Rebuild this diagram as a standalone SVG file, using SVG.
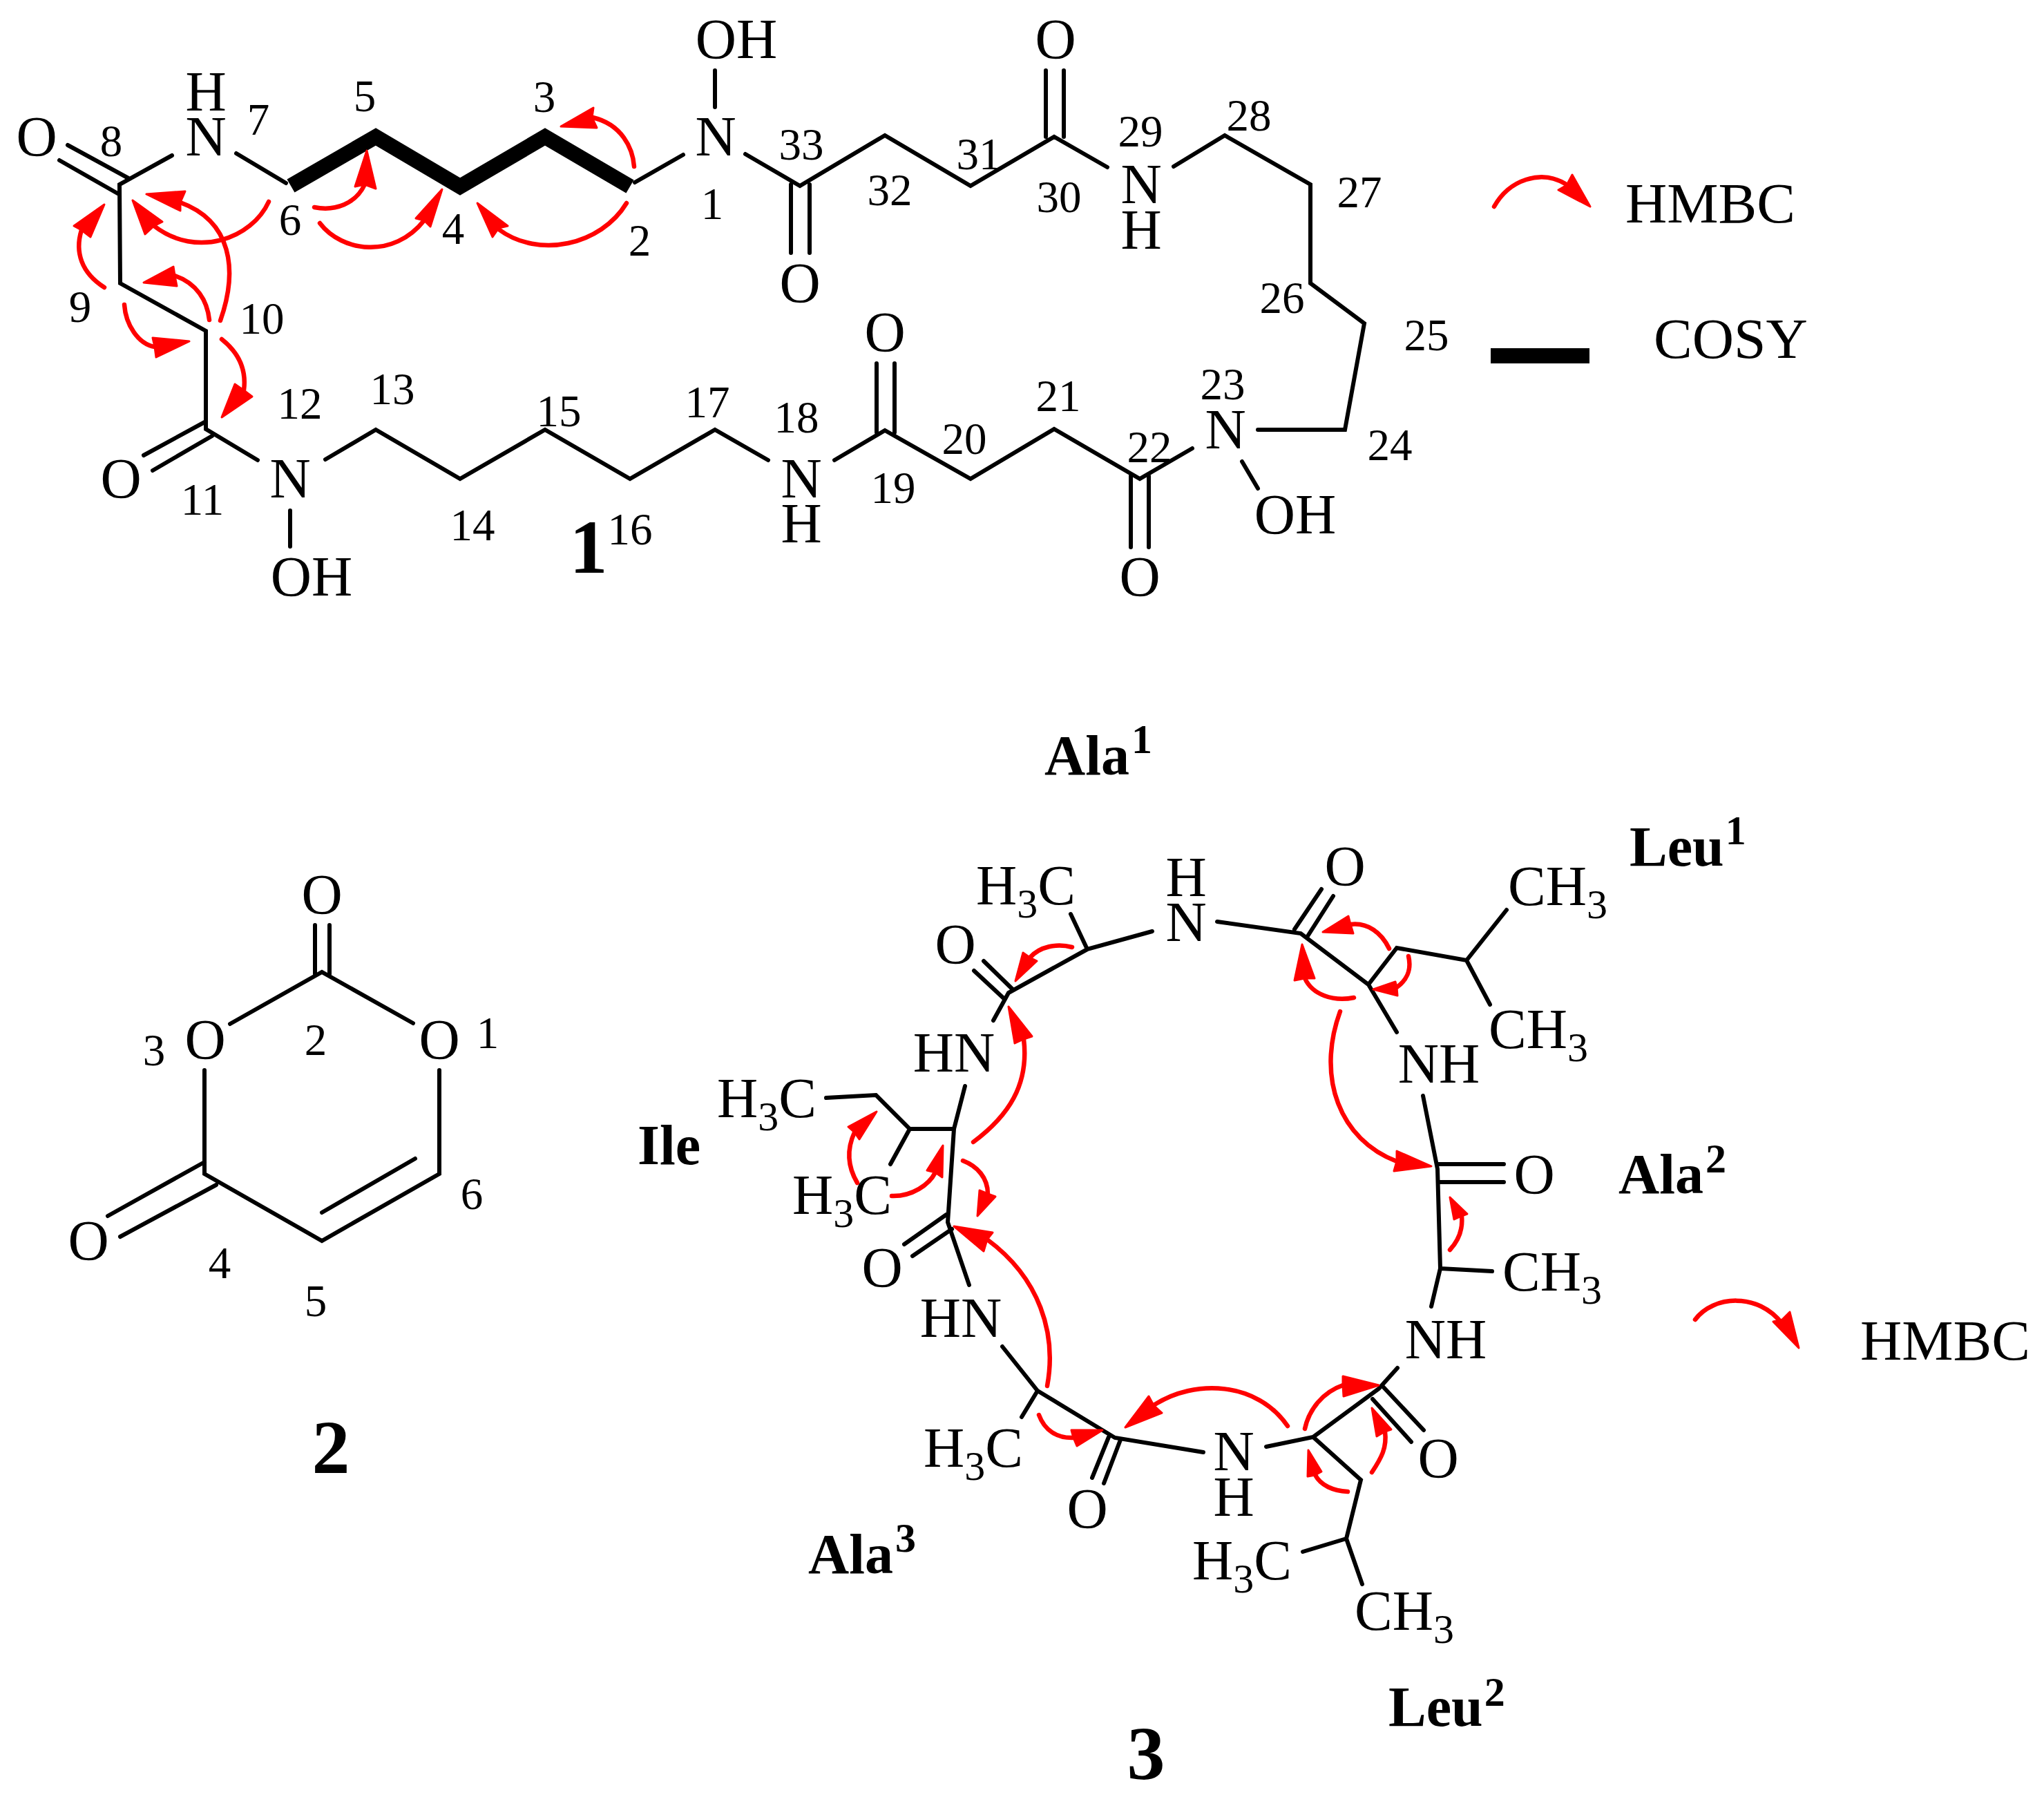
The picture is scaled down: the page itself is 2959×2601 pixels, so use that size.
<svg xmlns="http://www.w3.org/2000/svg" width="2959" height="2601" viewBox="0 0 2959 2601">
<style>
text{font-family:"Liberation Serif","Times New Roman",serif;fill:#000}
.a{font-size:82px;text-anchor:middle}
.l{font-size:82px}
.m{font-size:83.5px}
.n{font-size:65px;text-anchor:middle}
.g{font-size:82px;font-weight:bold}
.k{font-size:110px;font-weight:bold;text-anchor:middle}
.u{font-size:60px}
.s{font-size:60px}
.b{fill:none;stroke:#000;stroke-width:6;stroke-linecap:round;stroke-linejoin:miter}
.t{fill:none;stroke:#000;stroke-width:22;stroke-linejoin:miter}
.r{fill:none;stroke:#f00;stroke-width:6.5;stroke-linecap:round}
.h{fill:#f00;stroke:#f00;stroke-width:3;stroke-linejoin:round}
</style>
<rect width="2959" height="2601" fill="#fff"/>
<g id="compound-1">
<g id="c1-bonds">
<path class="b" d="M98,210L186,258M86,232L172,281M249,225L173,267L174,410L298,479L298,621L373,666M298,610L208,659M307,631L221,681M420,739V791M471,665L544,622L666,693L789,622L912,693L1035,622L1112,666M1208,666L1281,623L1405,693L1526,621L1650,693L1726,649M1269,526V626M1295,526V626M1637,689V792M1663,689V792M1798,668L1821,707M1821,622H1947L1975,468L1897,410V267L1773,196L1699,241M1603,242L1526,198L1405,269L1281,196L1158,269L1079,223M1514,102V198M1540,102V198M1145,267V366M1172,267V366M1035,102V155M989,224L919,264M342,222L414,265"/>
<path class="t" d="M912,270L789,198L666,270L544,198L421,269"/>
</g>
<g id="c1-atoms">
<text class="a" x="53" y="225">O</text><text class="a" x="298" y="160">H</text><text class="a" x="298" y="225">N</text><text class="a" x="1066" y="84">OH</text><text class="a" x="1036" y="225">N</text><text class="a" x="175" y="720">O</text><text class="a" x="420" y="720">N</text><text class="a" x="451" y="862">OH</text><text class="a" x="1528" y="84">O</text><text class="a" x="1652" y="294">N</text><text class="a" x="1652" y="360">H</text><text class="a" x="1158" y="437">O</text><text class="a" x="1281" y="508">O</text><text class="a" x="1774" y="649">N</text><text class="a" x="1160" y="720">N</text><text class="a" x="1160" y="785">H</text><text class="a" x="1875" y="772">OH</text><text class="a" x="1650" y="862">O</text>
</g>
<g id="c1-numbers">
<text class="n" x="1031" y="317">1</text><text class="n" x="926" y="370">2</text><text class="n" x="788" y="162">3</text><text class="n" x="656" y="353">4</text><text class="n" x="528" y="161">5</text><text class="n" x="420" y="340">6</text><text class="n" x="374" y="195">7</text><text class="n" x="161" y="226">8</text><text class="n" x="116" y="466">9</text><text class="n" x="379" y="483">10</text><text class="n" x="293" y="745">11</text><text class="n" x="434" y="606">12</text><text class="n" x="568" y="585">13</text><text class="n" x="684" y="782">14</text><text class="n" x="809" y="617">15</text><text class="n" x="912" y="788">16</text><text class="n" x="1024" y="604">17</text><text class="n" x="1153" y="626">18</text><text class="n" x="1293" y="728">19</text><text class="n" x="1396" y="657">20</text><text class="n" x="1532" y="595">21</text><text class="n" x="1664" y="669">22</text><text class="n" x="1770" y="578">23</text><text class="n" x="2012" y="666">24</text><text class="n" x="2065" y="507">25</text><text class="n" x="1856" y="453">26</text><text class="n" x="1968" y="300">27</text><text class="n" x="1808" y="189">28</text><text class="n" x="1651" y="212">29</text><text class="n" x="1533" y="307">30</text><text class="n" x="1417" y="245">31</text><text class="n" x="1288" y="297">32</text><text class="n" x="1160" y="231">33</text>
<text class="k" x="852" y="829">1</text>
</g>
<g id="c1-hmbc">
<path class="r" d="M918,241C916,214 900,180 858,170"/><polygon class="h" points="812,183 859,156 857,170 864,185"/>
<path class="r" d="M907,294C870,355 780,375 722,332"/><polygon class="h" points="691,294 735,327 722,330 713,343"/>
<path class="r" d="M463,323C495,365 570,375 614,319"/><polygon class="h" points="640,274 623,328 614,319 602,316"/>
<path class="r" d="M455,300C485,306 515,295 528,267"/><polygon class="h" points="531,218 544,273 528,267 514,270"/>
<path class="r" d="M389,292C365,345 285,375 223,327"/><polygon class="h" points="192,290 235,321 223,327 210,339"/>
<path class="r" d="M319,464C345,390 335,320 261,293"/><polygon class="h" points="212,281 268,277 261,293 261,305"/>
<path class="r" d="M151,416C118,395 108,365 118,333"/><polygon class="h" points="151,296 131,343 118,333 107,327"/>
<path class="r" d="M303,463C300,435 285,410 253,399"/><polygon class="h" points="208,409 251,386 253,399 256,414"/>
<path class="r" d="M180,441C182,470 200,498 224,502"/><polygon class="h" points="274,494 226,517 224,502 221,489"/>
<path class="r" d="M321,491C345,510 357,535 353,565"/><polygon class="h" points="321,604 340,556 353,565 365,574"/>
</g>
</g>
<g id="legend-1">
<path class="r" d="M2163,299C2185,260 2230,245 2266,266"/><polygon class="h" points="2302,299 2276,253 2268,268 2256,275"/>
<text class="m" x="2353" y="322">HMBC</text>
<rect x="2158" y="504" width="143" height="22" fill="#000"/>
<text class="m" x="2394" y="518">COSY</text>
</g>
<g id="compound-2">
<path class="b" d="M456,1339V1410M477,1339V1410M333,1482L466,1407L598,1481M296,1549V1699L466,1796L636,1699V1549M466,1755L601,1677M296,1682L156,1760M313,1715L174,1790"/>
<text class="a" x="466" y="1322">O</text><text class="a" x="297" y="1532">O</text><text class="a" x="636" y="1532">O</text><text class="a" x="128" y="1823">O</text>
<text class="n" x="706" y="1517">1</text><text class="n" x="457" y="1527">2</text><text class="n" x="223" y="1542">3</text><text class="n" x="318" y="1850">4</text><text class="n" x="457" y="1905">5</text><text class="n" x="683" y="1750">6</text>
<text class="k" x="479" y="2132">2</text>
</g>
<g id="compound-3">
<g id="c3-bonds">
<path class="b" d="M1550,1323L1574,1374L1668,1348M1574,1374L1460,1437L1438,1477M1424,1391L1466,1432M1410,1405L1453,1445M1397,1572L1381,1634L1372,1769L1403,1860M1381,1634H1317L1268,1585L1196,1589M1317,1634L1289,1685M1370,1758L1309,1801M1378,1779L1321,1818M1451,1949L1502,2013L1614,2081L1742,2102M1762,1334L1883,1351L1981,1425L2022,1494M1913,1287L1874,1345M1930,1297L1893,1355M1981,1425L2022,1372L2123,1390L2181,1317M2123,1390L2157,1454M2060,1586L2081,1692L2085,1836L2072,1891M2081,1685H2177M2085,1711H2177M2085,1836L2160,1840M2023,1980L1996,2010L1901,2080L1833,2094M2003,2008L2061,2070M1987,2025L2043,2087M1901,2080L1970,2142L1949,2227L1972,2293M1949,2227L1886,2246M1605,2080L1581,2139M1622,2084L1598,2147M1502,2013L1479,2051"/>
</g>
<g id="c3-atoms">
<text class="a" x="1717" y="1297">H</text><text class="a" x="1717" y="1362">N</text><text class="a" x="1947" y="1281">O</text><text class="a" x="1383" y="1394">O</text>
<text class="l" x="1413" y="1309">H<tspan class="s" dy="19">3</tspan><tspan dy="-19">C</tspan></text>
<text class="a" x="1381" y="1551">HN</text>
<text class="l" x="1038" y="1617">H<tspan class="s" dy="19">3</tspan><tspan dy="-19">C</tspan></text>
<text class="l" x="1147" y="1757">H<tspan class="s" dy="19">3</tspan><tspan dy="-19">C</tspan></text>
<text class="a" x="1277" y="1862">O</text><text class="a" x="1391" y="1935">HN</text>
<text class="l" x="2183" y="1310">CH<tspan class="s" dy="19">3</tspan></text>
<text class="l" x="2155" y="1517">CH<tspan class="s" dy="19">3</tspan></text>
<text class="a" x="2083" y="1567">NH</text><text class="a" x="2221" y="1727">O</text>
<text class="l" x="2175" y="1868">CH<tspan class="s" dy="19">3</tspan></text>
<text class="a" x="2093" y="1966">NH</text><text class="a" x="2082" y="2138">O</text>
<text class="l" x="1726" y="2286">H<tspan class="s" dy="19">3</tspan><tspan dy="-19">C</tspan></text>
<text class="l" x="1961" y="2359">CH<tspan class="s" dy="19">3</tspan></text>
<text class="a" x="1786" y="2128">N</text><text class="a" x="1786" y="2194">H</text><text class="a" x="1574" y="2211">O</text>
<text class="l" x="1337" y="2123">H<tspan class="s" dy="19">3</tspan><tspan dy="-19">C</tspan></text>
</g>
<g id="c3-residues">
<text class="g" x="1512" y="1121">Ala<tspan class="u" dx="3" dy="-31">1</tspan></text>
<text class="g" x="2359" y="1253">Leu<tspan class="u" dx="2" dy="-31">1</tspan></text>
<text class="g" x="2343" y="1727">Ala<tspan class="u" dx="3" dy="-30">2</tspan></text>
<text class="g" x="923" y="1685">Ile</text>
<text class="g" x="1170" y="2277">Ala<tspan class="u" dx="3" dy="-31">3</tspan></text>
<text class="g" x="2010" y="2498">Leu<tspan class="u" dx="2" dy="-29">2</tspan></text>
<text class="k" x="1659" y="2575">3</text>
</g>
<g id="c3-hmbc">
<path class="r" d="M1552,1371C1530,1365 1505,1370 1491,1386"/><polygon class="h" points="1470,1420 1481,1379 1491,1386 1501,1391"/>
<path class="r" d="M1409,1653C1460,1615 1490,1570 1482,1504"/><polygon class="h" points="1460,1457 1494,1500 1482,1504 1469,1510"/>
<path class="r" d="M1241,1712C1228,1690 1225,1665 1237,1639"/><polygon class="h" points="1269,1609 1244,1649 1237,1639 1228,1631"/>
<path class="r" d="M1291,1731C1320,1732 1345,1715 1354,1697"/><polygon class="h" points="1365,1658 1364,1704 1354,1697 1342,1694"/>
<path class="r" d="M1394,1680C1415,1688 1430,1705 1430,1728"/><polygon class="h" points="1415,1760 1418,1723 1430,1728 1441,1732"/>
<path class="r" d="M1516,2006C1530,1930 1505,1850 1429,1794"/><polygon class="h" points="1381,1775 1437,1784 1429,1794 1424,1811"/>
<path class="r" d="M1504,2048C1512,2070 1530,2082 1554,2081"/><polygon class="h" points="1596,2070 1559,2093 1554,2081 1551,2070"/>
<path class="r" d="M1864,2064C1820,2000 1730,1995 1670,2034"/><polygon class="h" points="1629,2066 1663,2021 1670,2034 1682,2045"/>
<path class="r" d="M1889,2068C1895,2040 1915,2015 1944,2005"/><polygon class="h" points="1996,2005 1945,2021 1944,2005 1944,1992"/>
<path class="r" d="M1951,2159C1930,2158 1912,2150 1904,2135"/><polygon class="h" points="1894,2099 1913,2130 1904,2135 1893,2137"/>
<path class="r" d="M1986,2131C2000,2110 2008,2095 2005,2072"/><polygon class="h" points="1986,2038 2014,2069 2005,2072 1993,2079"/>
<path class="r" d="M2099,1809C2112,1795 2118,1780 2116,1760"/><polygon class="h" points="2099,1733 2124,1757 2116,1760 2105,1765"/>
<path class="r" d="M1940,1464C1905,1560 1940,1650 2022,1681"/><polygon class="h" points="2072,1688 2018,1695 2022,1681 2022,1666"/>
<path class="r" d="M1960,1444C1930,1450 1900,1440 1889,1416"/><polygon class="h" points="1885,1367 1903,1416 1889,1416 1874,1419"/>
<path class="r" d="M2011,1373C2000,1350 1980,1335 1955,1338"/><polygon class="h" points="1915,1349 1952,1326 1955,1338 1959,1351"/>
<path class="r" d="M2039,1384C2044,1405 2035,1420 2022,1429"/><polygon class="h" points="1988,1432 2020,1421 2022,1429 2023,1441"/>
</g>
</g>
<g id="legend-3">
<path class="r" d="M2454,1910C2480,1875 2545,1870 2580,1916"/><polygon class="h" points="2604,1951 2591,1899 2580,1910 2567,1913"/>
<text class="m" x="2693" y="1968">HMBC</text>
</g>
</svg>
